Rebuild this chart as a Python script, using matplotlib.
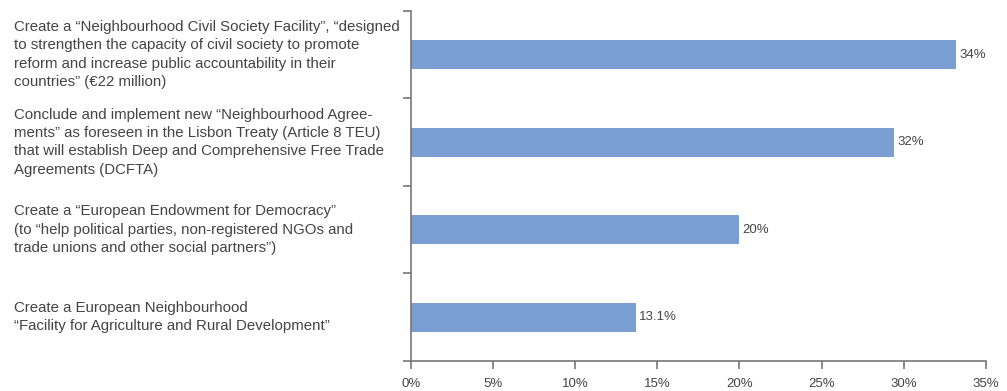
import matplotlib

matplotlib.use("Agg")
import matplotlib.pyplot as plt
import matplotlib.transforms as mtransforms

# --- data (top to bottom) ----------------------------------------------------
categories = [
    "Create a \u201cNeighbourhood Civil Society Facility\u201d, \u201cdesigned\n"
    "to strengthen the capacity of civil society to promote\n"
    "reform and increase public accountability in their\n"
    "countries\u201d (\u20ac22 million)",
    "Conclude and implement new \u201cNeighbourhood Agree-\n"
    "ments\u201d as foreseen in the Lisbon Treaty (Article 8 TEU)\n"
    "that will establish Deep and Comprehensive Free Trade\n"
    "Agreements (DCFTA)",
    "Create a \u201cEuropean Endowment for Democracy\u201d\n"
    "(to \u201chelp political parties, non-registered NGOs and\n"
    "trade unions and other social partners\u201d)",
    "Create a European Neighbourhood\n"
    "\u201cFacility for Agriculture and Rural Development\u201d",
]
bar_values = [33.2, 29.4, 20.0, 13.7]  # bar lengths as drawn [%]
value_labels = ["34%", "32%", "20%", "13.1%"]
x_ticks = [0, 5, 10, 15, 20, 25, 30, 35]

BAR_COLOR = "#7b9fd3"
AXIS_COLOR = "#777777"
TEXT_COLOR = "#444444"

plt.rcParams["font.family"] = ["Liberation Sans", "DejaVu Sans"]

fig = plt.figure(figsize=(10.07, 3.91), dpi=100)
ax = fig.add_axes([0.408, 0.077, 0.571, 0.895])

n = len(categories)
ypos = [n - 1 - i + 0.5 for i in range(n)]
ax.barh(ypos, bar_values, height=0.33, color=BAR_COLOR)

for y, v, lab in zip(ypos, bar_values, value_labels):
    ax.text(v + 0.2, y, lab, va="center", ha="left", fontsize=9.5, color=TEXT_COLOR)

# category texts, left aligned near the figure edge
trans = mtransforms.blended_transform_factory(fig.transFigure, ax.transData)
for y, cat in zip(ypos, categories):
    ax.text(0.014, y, cat, transform=trans, ha="left", va="center",
            fontsize=10.8, color=TEXT_COLOR, linespacing=1.4)

ax.set_xlim(0, 35)
ax.set_ylim(0, n)
ax.set_xticks(x_ticks)
ax.set_xticklabels([f"{t}%" for t in x_ticks])
ax.set_yticks(range(n + 1))
ax.set_yticklabels([])

for side in ("top", "right"):
    ax.spines[side].set_visible(False)
for side in ("left", "bottom"):
    ax.spines[side].set_color(AXIS_COLOR)
    ax.spines[side].set_linewidth(1.2)
ax.tick_params(axis="both", color=AXIS_COLOR, width=1.2, length=6,
               labelcolor=TEXT_COLOR, labelsize=9.5)
ax.tick_params(axis="x", pad=6)

fig.savefig("out.png", dpi=100)
